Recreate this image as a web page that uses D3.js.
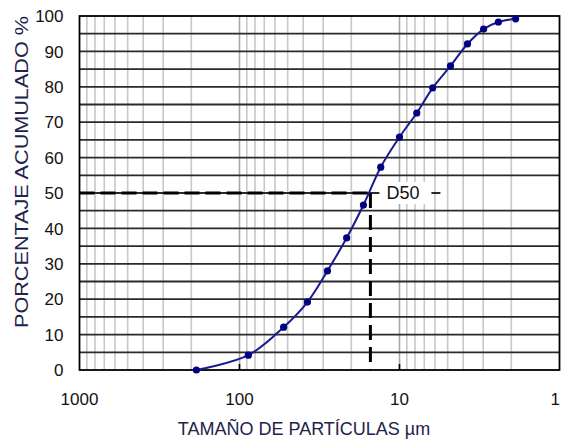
<!DOCTYPE html>
<html>
<head>
<meta charset="utf-8">
<script src="https://cdn.jsdelivr.net/npm/d3@7"></script>
<style>
  html, body { margin: 0; padding: 0; background: #fff; }
  svg { display: block; font-family: "Liberation Sans", Arial, sans-serif; }
</style>
</head>
<body>
<script>
// Particle size distribution (cumulative %).
var sizes = [186, 88, 53, 37.6, 28.2, 21.4, 16.8, 13.1, 10, 7.8, 6.2, 4.8, 3.76, 2.98, 2.41, 1.88];
var percents = [0, 4.2, 12.1, 19.2, 28, 37.3, 46.6, 57.3, 65.8, 72.6, 79.7, 85.9, 92.1, 96.3, 98.3, 99.2];

var xTicks = [1000, 100, 10, 1];
var yTicks = [0, 10, 20, 30, 40, 50, 60, 70, 80, 90, 100];
var d50 = 15.2;

var width = 561, height = 439;
var margin = {top: 16, right: 1.5, bottom: 69, left: 79.5};

var svg = d3.select('body').append('svg')
  .attr('width', width)
  .attr('height', height);

// log axis runs backwards: coarse particles on the left
var x = d3.scaleLog().domain([1000, 1]).range([margin.left, width - margin.right]);
var y = d3.scaleLinear().domain([0, 100]).range([height - margin.bottom, margin.top]);

var x0 = x.range()[0], x1 = x.range()[1], y0 = y.range()[0], y1 = y.range()[1];

// minor vertical grid (2..9 in each decade)
var minor = [];
[1, 10, 100].forEach(function (d) {
  for (var k = 2; k <= 9; k++) minor.push(d * k);
});
svg.append('g').selectAll('line').data(minor).join('line')
  .attr('x1', d => x(d)).attr('x2', d => x(d))
  .attr('y1', y1).attr('y2', y0)
  .attr('stroke', '#c8c8c8').attr('stroke-width', 1.6);

// decade lines
svg.append('g').selectAll('line').data([100, 10]).join('line')
  .attr('x1', d => x(d)).attr('x2', d => x(d))
  .attr('y1', y1).attr('y2', y0)
  .attr('stroke', '#a8a8a8').attr('stroke-width', 1.6);

// horizontal grid every 5 % (the 50 line stops just after the D50 label)
svg.append('g').selectAll('line').data(d3.range(5, 100, 5)).join('line')
  .attr('x1', x0).attr('x2', d => d === 50 ? x(d50) + 70 : x1)
  .attr('y1', d => y(d)).attr('y2', d => y(d))
  .attr('stroke', '#2a2a2a').attr('stroke-width', 1.8);

// plot frame
svg.append('rect')
  .attr('x', x0).attr('y', y1)
  .attr('width', x1 - x0).attr('height', y0 - y1)
  .attr('fill', 'none').attr('stroke', '#000').attr('stroke-width', 1.8);

// bottom tick marks at the decades
svg.append('g').selectAll('line').data([100, 10]).join('line')
  .attr('x1', d => x(d)).attr('x2', d => x(d))
  .attr('y1', y0 - 6).attr('y2', y0)
  .attr('stroke', '#000').attr('stroke-width', 1.6);

// tick labels
svg.append('g').selectAll('text').data(xTicks).join('text')
  .attr('x', d => d === 1 ? x(d) + 0.5 : x(d)).attr('y', y0 + 35)
  .attr('text-anchor', d => d === 1 ? 'end' : 'middle')
  .attr('font-size', 17).attr('fill', '#111')
  .text(d => d);

svg.append('g').selectAll('text').data(yTicks).join('text')
  .attr('x', x0 - 16).attr('y', d => y(d))
  .attr('dy', '0.36em')
  .attr('text-anchor', 'end')
  .attr('font-size', 17).attr('fill', '#111')
  .text(d => d);

// D50 guide lines
svg.append('line')
  .attr('x1', x0).attr('x2', x(d50))
  .attr('y1', y(50)).attr('y2', y(50))
  .attr('stroke', '#000').attr('stroke-width', 3)
  .attr('stroke-dasharray', '15,6');
svg.append('line')
  .attr('x1', x(d50)).attr('x2', x(d50))
  .attr('y1', y(50)).attr('y2', y0)
  .attr('stroke', '#000').attr('stroke-width', 3)
  .attr('stroke-dasharray', '15,7');

// curve
var line = d3.line()
  .x((d, i) => x(sizes[i]))
  .y(d => y(d))
  .curve(d3.curveCatmullRom);

svg.append('path')
  .datum(percents)
  .attr('d', line)
  .attr('fill', 'none')
  .attr('stroke', '#1a1a90')
  .attr('stroke-width', 2);

svg.append('g').selectAll('circle').data(percents).join('circle')
  .attr('cx', (d, i) => x(sizes[i]))
  .attr('cy', d => y(d))
  .attr('r', 3.6)
  .attr('fill', '#000080');

// D50 label with white box
var lx = x(d50) + 16;
svg.append('rect')
  .attr('x', lx - 7).attr('y', y(50) - 11)
  .attr('width', 52).attr('height', 22)
  .attr('fill', '#fff');
svg.append('text')
  .attr('x', lx).attr('y', y(50))
  .attr('dy', '0.36em')
  .attr('font-size', 18).attr('fill', '#111')
  .text('D50');

// axis titles
svg.append('text')
  .attr('x', 304).attr('y', 435)
  .attr('text-anchor', 'middle')
  .attr('font-size', 18).attr('fill', '#22224a')
  .text('TAMAÑO DE PARTÍCULAS µm');

svg.append('text')
  .attr('transform', 'translate(28,' + 172 + ') rotate(-90)')
  .attr('text-anchor', 'middle')
  .attr('font-size', 18).attr('fill', '#22224a')
  .attr('textLength', 312).attr('lengthAdjust', 'spacingAndGlyphs')
  .text('PORCENTAJE ACUMULADO %');
</script>
</body>
</html>
